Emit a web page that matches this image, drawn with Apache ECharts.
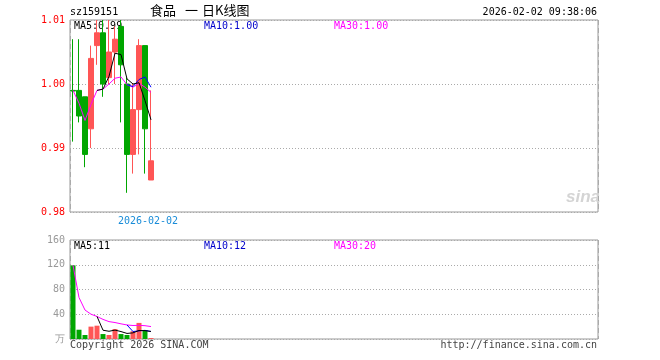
<!DOCTYPE html>
<html><head><meta charset="utf-8">
<script src="https://cdn.jsdelivr.net/npm/echarts@6/dist/echarts.min.js"></script>
<style>html,body{margin:0;padding:0;background:#fff}#c{width:660px;height:360px}</style>
</head><body><div id="c"></div>
<script>
// ---- data ----
const dates = ['2026-01-14','2026-01-15','2026-01-16','2026-01-19','2026-01-20','2026-01-21','2026-01-22','2026-01-23','2026-01-26','2026-01-27','2026-01-28','2026-01-29','2026-01-30','2026-02-02'];
const opens  = [0.999, 0.999, 0.998, 0.993, 1.006, 1.008, 1.001, 1.005, 1.009, 1.000, 0.989, 0.996, 1.006, 0.985];
const closes = [0.9989,0.995, 0.989, 1.004, 1.008, 1.000, 1.005, 1.007, 1.003, 0.989, 0.996, 1.006, 0.993, 0.988];
const lows   = [0.991, 0.994, 0.987, 0.990, 1.003, 0.998, 1.000, 1.000, 0.994, 0.983, 0.986, 0.989, 0.986, 0.985];
const highs  = [1.007, 1.007, 0.998, 1.006, 1.010, 1.010, 1.010, 1.009, 1.010, 1.001, 1.000, 1.007, 1.006, 0.999];
const volumes = [119, 15, 6.5, 20, 21.5, 8, 6.5, 16, 8, 6.5, 12.5, 26, 14.5, 1.5];
const priceMA5  = [null,null,null,null,0.999,0.9992,1.0012,1.0048,1.0046,1.0008,1.000,1.0002,0.9974,0.9944];
const priceMA10 = [null,null,null,null,null,null,null,null,null,0.9999,0.9996,1.0007,1.0011,0.9995];
const priceMA30 = [0.999,0.997,0.9943,0.9968,0.999,0.9992,1.0000,1.0009,1.0011,0.9999,0.9995,1.0001,0.9995,0.9987];
const volMA5  = [null,null,null,null,36.4,14.2,12.5,14.4,12,9,9.9,13.8,13.5,12.2];
const volMA10 = [null,null,null,null,null,null,null,null,null,22.7,12.05,13.15,13.95,12.1];
const volMA30 = [119,67,46.8,40.1,36.4,31.7,28.1,26.6,24.5,22.7,21.8,22.1,21.5,20.1];
const priceTicks = {min: 0.98, max: 1.01, step: 0.01};
const volTicks = {min: 0, max: 160, step: 40};
const slots = 88;
const markIndex = 13;
const legendPrice = ['MA5:0.99','MA10:1.00','MA30:1.00'];
const legendVol = ['MA5:11','MA10:12','MA30:20'];

const RED = '#ff5555', GREEN = '#00a600';
const MONO = '"DejaVu Sans Mono", "Liberation Mono", monospace';
const CJK = '"Noto Sans CJK SC", sans-serif';

const chart = echarts.init(document.getElementById('c'), null, {renderer: 'canvas'});
const kdata = dates.map((d, i) => [opens[i], closes[i], lows[i], highs[i]]);

const xCommon = (gridIndex, showLabel) => ({
  type: 'category', gridIndex, data: dates, max: slots - 1, boundaryGap: true,
  axisLine: {show: false}, axisTick: {show: false},
  axisLabel: {show: showLabel, interval: (i) => i === markIndex, color: '#1a8cd8',
    fontFamily: MONO, fontSize: 10, margin: 4, padding: [0, 6, 0, 0]},
  splitLine: {show: true, interval: (i) => i === markIndex,
    lineStyle: {color: '#aaa', type: [5, 3], width: 1}}
});

const option = {
  animation: false,
  backgroundColor: '#fff',
  grid: [
    {left: 70, top: 20, width: 528, height: 192, show: true, borderColor: '#999', borderWidth: 1, outerBoundsMode: 'none'},
    {left: 70, top: 240, width: 528, height: 99, show: true, borderColor: '#999', borderWidth: 1, outerBoundsMode: 'none'}
  ],
  xAxis: [xCommon(0, true), xCommon(1, false)],
  yAxis: [
    {type: 'value', gridIndex: 0, min: priceTicks.min, max: priceTicks.max, interval: priceTicks.step,
     axisLine: {show: false}, axisTick: {show: false},
     axisLabel: {color: '#ff0000', fontFamily: MONO, fontSize: 10, margin: 5, formatter: v => v.toFixed(2)},
     splitLine: {show: true, lineStyle: {color: '#aaa', type: [1, 2], width: 1}}},
    {type: 'value', gridIndex: 1, min: volTicks.min, max: volTicks.max, interval: volTicks.step,
     axisLine: {show: false}, axisTick: {show: false},
     axisLabel: {color: '#999', fontFamily: MONO, fontSize: 10, margin: 5, formatter: v => v === 0 ? '万' : String(v)},
     splitLine: {show: true, lineStyle: {color: '#aaa', type: [1, 2], width: 1}}}
  ],
  series: [
    {type: 'candlestick', xAxisIndex: 0, yAxisIndex: 0, data: kdata, barWidth: 4.6,
     itemStyle: {color: RED, color0: GREEN, borderColor: RED, borderColor0: GREEN, borderWidth: 1}},
    {type: 'line', xAxisIndex: 0, yAxisIndex: 0, data: priceMA30, showSymbol: false, symbol: 'none', lineStyle: {color: '#ff00ff', width: 1}},
    {type: 'line', xAxisIndex: 0, yAxisIndex: 0, data: priceMA10, showSymbol: false, symbol: 'none', lineStyle: {color: '#0000ff', width: 1}},
    {type: 'line', xAxisIndex: 0, yAxisIndex: 0, data: priceMA5, showSymbol: false, symbol: 'none', lineStyle: {color: '#000000', width: 1}},
    {type: 'bar', xAxisIndex: 1, yAxisIndex: 1, data: volumes, barWidth: 5,
     itemStyle: {color: (p) => closes[p.dataIndex] > opens[p.dataIndex] ? RED : GREEN}},
    {type: 'line', xAxisIndex: 1, yAxisIndex: 1, data: volMA30, showSymbol: false, symbol: 'none', lineStyle: {color: '#ff00ff', width: 1}},
    {type: 'line', xAxisIndex: 1, yAxisIndex: 1, data: volMA10, showSymbol: false, symbol: 'none', lineStyle: {color: '#0000ff', width: 1}},
    {type: 'line', xAxisIndex: 1, yAxisIndex: 1, data: volMA5, showSymbol: false, symbol: 'none', lineStyle: {color: '#000000', width: 1}}
  ],
  graphic: [
    {type: 'text', left: 70, top: 7, style: {text: 'sz159151', fill: '#000', font: '10px ' + MONO}},
    {type: 'text', left: 150, top: 4, style: {text: '食品', fill: '#000', font: '13px ' + CJK}},
    {type: 'text', left: 185, top: 4, style: {text: '一', fill: '#000', font: '13px ' + CJK}},
    {type: 'text', left: 202, top: 4, style: {text: '日K线图', fill: '#000', font: '13px ' + CJK}},
    {type: 'text', right: 63, top: 7, style: {text: '2026-02-02 09:38:06', fill: '#000', font: '10px ' + MONO}},
    {type: 'text', left: 74, top: 21, style: {text: legendPrice[0], fill: '#000', font: '10px ' + MONO}},
    {type: 'text', left: 204, top: 21, style: {text: legendPrice[1], fill: '#0000cc', font: '10px ' + MONO}},
    {type: 'text', left: 334, top: 21, style: {text: legendPrice[2], fill: '#ff00ff', font: '10px ' + MONO}},
    {type: 'text', left: 74, top: 241, style: {text: legendVol[0], fill: '#000', font: '10px ' + MONO}},
    {type: 'text', left: 204, top: 241, style: {text: legendVol[1], fill: '#0000cc', font: '10px ' + MONO}},
    {type: 'text', left: 334, top: 241, style: {text: legendVol[2], fill: '#ff00ff', font: '10px ' + MONO}},
    {type: 'text', left: 70, top: 340, style: {text: 'Copyright 2026 SINA.COM', fill: '#444', font: '10px ' + MONO}},
    {type: 'text', right: 63, top: 340, style: {text: 'http://finance.sina.com.cn', fill: '#444', font: '10px ' + MONO}},
    {type: 'text', left: 566, top: 189, style: {text: 'sina', fill: '#d4d4d4', font: 'italic bold 17px "Liberation Sans"'}}
  ]
};
chart.setOption(option);
</script></body></html>
